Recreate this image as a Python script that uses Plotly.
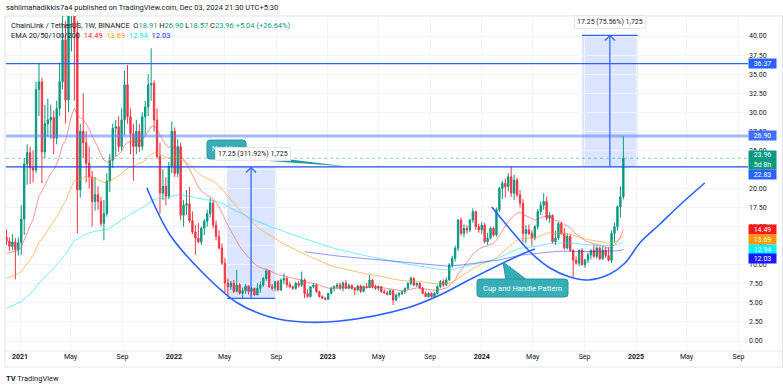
import numpy as np
import pandas as pd
import plotly.graph_objects as go

# ---------------- data (weekly LINK/USDT) ----------------
first_week = "2020-11-30"
opens = [13.6,13.1,12.4,13.0,12.0,12.9,16.0,23.2,24.7,22.7,
 22.4,33.0,34.0,24.8,28.5,29.0,29.3,26.6,30.5,34.0,
 39.5,31.6,43.0,45.0,40.5,19.8,27.5,26.0,23.3,21.5,
 18.3,19.2,18.3,15.4,16.7,21.0,23.7,27.9,28.1,25.5,
 29.0,33.6,29.4,27.2,25.5,27.5,25.5,29.4,30.7,33.6,
 33.8,29.0,24.2,19.4,20.3,19.0,22.9,27.5,22.0,25.5,
 16.5,17.8,18.0,15.8,14.3,13.5,13.0,14.8,15.7,16.7,
 18.1,15.2,13.7,12.2,10.2,7.6,7.1,7.6,6.5,7.35,
 6.25,6.6,7.2,6.5,6.9,6.05,6.9,7.35,8.2,9.2,
 7.13,6.91,7.78,6.69,8.0,8.2,7.4,7.1,6.91,7.57,
 7.3,8.0,6.2,5.82,7.13,7.35,6.47,5.82,5.6,5.47,
 6.25,6.91,7.13,7.35,6.91,7.6,6.91,7.3,6.9,6.69,
 7.2,6.5,7.13,7.0,8.0,7.13,6.91,7.13,6.47,6.3,
 6.1,6.6,5.38,6.03,6.25,6.47,6.91,7.56,8.22,7.35,
 7.56,6.91,6.25,5.81,6.25,5.81,6.25,7.13,7.78,7.35,
 8.0,9.97,10.84,12.15,15.87,14.12,14.78,14.56,15.87,16.96,
 15.0,14.56,15.2,13.03,13.5,14.78,13.9,17.2,20.02,20.68,
 20.24,21.55,19.4,21.1,19.15,18.06,14.1,14.6,14.1,13.5,
 15.0,17.0,17.8,18.3,16.1,16.5,13.0,13.5,15.4,14.1,
 12.2,13.7,11.9,10.6,10.2,11.9,10.0,10.6,11.3,11.9,
 11.1,12.2,10.8,11.9,11.2,10.6,14.1,15.0,17.6,18.91]
highs = [14.6,13.6,14.0,13.5,13.6,17.8,24.0,25.8,25.5,25.0,
 34.0,36.5,34.5,31.0,31.8,31.0,30.2,31.5,36.5,44.3,
 42.0,43.5,49.0,52.9,42.0,28.5,32.5,27.5,25.5,22.3,
 21.5,20.3,18.9,18.5,22.0,24.5,28.5,29.0,29.5,30.5,
 35.5,36.2,30.5,28.5,29.0,28.5,30.0,31.5,35.0,38.4,
 34.2,30.5,26.0,22.5,21.5,23.5,28.8,28.0,26.5,26.0,
 18.5,19.8,20.2,17.0,15.2,15.5,15.0,16.0,17.2,18.8,
 18.5,15.8,14.5,12.8,10.9,8.2,7.9,8.0,9.3,7.6,
 7.0,7.5,7.3,7.1,7.0,7.6,7.8,8.4,9.4,9.3,
 7.5,7.9,8.0,8.2,8.9,8.4,7.8,7.3,7.8,7.9,
 9.1,8.2,6.8,7.2,7.6,7.5,6.6,6.0,5.8,6.3,
 7.1,7.3,7.6,7.7,7.8,8.0,7.5,7.4,7.0,7.4,
 7.4,7.3,7.6,8.66,8.1,7.4,7.3,7.2,6.8,6.6,
 6.8,6.7,6.2,6.4,6.6,7.0,7.7,8.44,8.3,7.7,
 7.7,7.1,6.5,6.4,6.4,6.4,7.3,8.0,8.1,8.3,
 10.2,11.2,12.5,16.0,16.2,15.3,15.2,16.0,17.4,17.1,
 15.4,15.6,15.5,14.2,15.0,15.0,17.5,20.2,21.0,21.3,
 22.0,22.86,21.8,21.4,19.8,18.6,15.2,15.3,14.5,15.2,
 17.3,18.3,19.4,18.9,16.9,16.6,14.5,15.6,15.6,14.8,
 14.1,14.0,12.0,11.1,12.0,12.2,10.8,11.6,12.0,12.6,
 12.5,12.4,12.4,12.3,12.3,14.5,15.5,17.8,20.3,26.9]
lows = [12.6,11.8,11.9,8.1,11.2,11.3,13.9,20.5,20.6,20.8,
 22.0,29.5,20.7,24.0,26.8,26.5,24.5,25.8,29.5,33.0,
 28.5,30.0,38.0,31.5,14.1,18.8,24.0,20.8,20.0,15.0,
 17.1,17.2,15.0,13.2,16.3,19.5,22.7,24.2,24.8,25.0,
 27.0,28.5,24.5,21.0,24.5,24.8,25.0,27.0,29.5,31.5,
 27.5,24.0,16.7,18.5,17.8,18.6,22.0,21.5,21.5,15.8,
 15.0,16.5,15.5,14.0,11.3,12.8,12.6,13.9,15.0,16.2,
 14.8,13.2,12.0,10.0,6.3,6.0,6.7,6.3,6.4,6.1,
 5.6,6.2,6.1,6.0,5.9,6.0,6.3,7.1,7.9,6.95,
 6.6,6.5,6.5,6.6,7.5,7.0,6.9,6.7,6.7,7.0,
 7.1,5.6,5.7,5.7,6.9,6.3,5.7,5.5,5.35,5.4,
 6.1,6.5,6.8,6.7,6.5,6.8,6.8,6.7,6.03,6.5,
 6.3,6.4,6.9,6.95,6.9,6.7,6.6,6.3,6.2,6.0,
 6.0,4.72,5.2,5.7,6.0,6.2,6.7,7.3,7.2,7.1,
 6.8,6.1,5.75,5.7,5.7,5.7,6.1,6.9,7.1,7.2,
 7.9,9.6,10.4,11.8,13.8,13.6,14.1,14.3,15.5,14.6,
 14.2,14.0,12.8,12.6,13.3,13.7,13.7,16.9,18.6,18.8,
 19.6,18.9,18.5,18.9,17.5,12.9,12.8,13.9,12.5,13.2,
 14.6,16.5,17.2,15.8,15.5,12.8,12.6,13.2,13.9,11.9,
 12.0,11.7,8.4,10.0,9.8,9.9,9.6,10.2,10.7,10.9,
 10.8,10.6,10.6,10.9,10.4,10.2,12.9,14.5,16.2,18.57]
closes = [13.1,12.4,13.0,12.0,12.9,16.0,23.2,24.7,22.7,22.4,
 33.0,34.0,24.8,28.5,29.0,29.3,26.6,30.5,34.0,39.5,
 31.6,43.0,45.0,40.5,19.8,27.5,26.0,23.3,21.5,18.3,
 19.2,18.3,15.4,16.7,21.0,23.7,27.9,28.1,25.5,29.0,
 33.6,29.4,27.2,25.5,27.5,25.5,29.4,30.7,33.6,33.8,
 29.0,24.2,19.4,20.3,19.0,22.9,27.5,22.0,25.5,16.5,
 17.8,18.0,15.8,14.3,13.5,13.0,14.8,15.7,16.7,18.1,
 15.2,13.7,12.2,10.2,7.6,7.1,7.6,6.5,7.35,6.25,
 6.6,7.2,6.5,6.9,6.05,6.9,7.35,8.2,9.2,7.13,
 6.91,7.78,6.69,8.0,8.2,7.4,7.1,6.91,7.57,7.3,
 8.0,6.2,5.82,7.13,7.35,6.47,5.82,5.6,5.47,6.25,
 6.91,7.13,7.35,6.91,7.6,6.91,7.3,6.9,6.69,7.2,
 6.5,7.13,7.0,8.0,7.13,6.91,7.13,6.47,6.3,6.1,
 6.6,5.38,6.03,6.25,6.47,6.91,7.56,8.22,7.35,7.56,
 6.91,6.25,5.81,6.25,5.81,6.25,7.13,7.78,7.35,8.0,
 9.97,10.84,12.15,15.87,14.12,14.78,14.56,15.87,16.96,15.0,
 14.56,15.2,13.03,13.5,14.78,13.9,17.2,20.02,20.68,20.24,
 21.55,19.4,21.1,19.15,18.06,14.1,14.6,14.1,13.5,15.0,
 17.0,17.8,18.3,16.1,16.5,13.0,13.5,15.4,14.1,12.2,
 13.7,11.9,10.6,10.2,11.9,10.0,10.6,11.3,11.9,11.1,
 12.2,10.8,11.9,11.2,10.6,14.1,15.0,17.6,18.91,23.96]

# EMA settings (starting values)
ema_lengths = [20, 50, 100, 200]
ema_seed_values = [11.5, 8.2, 4.3, 11.7]
ema_seed_index = [0, 0, 0, 101]
ema_line_colors = ["rgba(255,60,60,0.55)", "rgba(255,150,20,0.6)",
                   "rgba(0,225,235,0.55)", "rgba(40,40,255,0.5)"]
ema_tag_colors = ["#ff1a1a", "#ff9800", "#00f0ff", "#1a1aff"]
ema_tag_text = ["14.49", "13.69", "12.94", "12.03"]

hline_levels = [36.37, 26.90, 22.83]
last_price = 23.96

# drawings (date, price)
cup_dates = ["2021-10-29", "2021-12-23", "2022-03-11", "2022-05-31", "2022-08-17",
             "2022-11-03", "2023-01-30", "2023-07-08", "2023-09-24", "2023-12-11",
             "2024-04-01", "2024-05-06"]
cup_prices = [20.07, 13.9, 8.92, 5.02, 3.15, 2.49, 2.62, 4.33, 6.03, 8.26, 11.28, 12.07]
handle_dates = ["2024-01-25", "2024-03-08", "2024-04-25", "2024-06-11", "2024-07-28",
                "2024-09-09", "2024-10-31", "2024-12-06", "2025-01-10", "2025-02-27",
                "2025-04-15", "2025-06-13"]
handle_prices = [17.57, 14.69, 11.67, 9.57, 8.39, 8.0, 8.79, 10.23, 12.85, 15.34, 17.84, 20.72]

range1_dates = ["2022-05-07", "2022-07-03", "2022-08-29"]
range1_prices = [5.58, 22.83]
range2_dates = ["2024-08-26", "2024-10-31", "2025-01-05"]
range2_prices = [22.83, 40.08]
range1_text = "17.25 (311.92%) 1,725"
range2_text = "17.25 (75.56%) 1,725"

x_tick_dates = ["2021-01-01", "2021-05-01", "2021-09-01", "2022-01-01", "2022-05-01",
                "2022-09-01", "2023-01-01", "2023-05-01", "2023-09-01", "2024-01-01",
                "2024-05-01", "2024-09-01", "2025-01-01", "2025-05-01", "2025-09-01"]
x_tick_text = ["<b>2021</b>", "May", "Sep", "<b>2022</b>", "May", "Sep", "<b>2023</b>", "May",
               "Sep", "<b>2024</b>", "May", "Sep", "<b>2025</b>", "May", "Sep"]
y_tick_values = [i * 2.5 for i in range(17)]

# ---------------- geometry helpers ----------------
W, H = 783, 388
ML, MR, MT, MB = 6, 35, 16, 37
PW, PH = W - ML - MR, H - MT - MB
PX_PER_DAY = 616 / 1461.0
Y_PER_UNIT = 7.625
ORIGIN = pd.Timestamp("2021-01-01")


def px2date(px):
    return ORIGIN + pd.Timedelta(days=(px - 20) / PX_PER_DAY)


x_range = [px2date(ML), px2date(W - MR)]
y_range = [(341 - (H - MB)) / Y_PER_UNIT, (341 - MT) / Y_PER_UNIT]


def fx(px):
    return (px - ML) / PW


def fy(py):
    return (H - MB - py) / PH


def rrect(x0, y0, x1, y1, r):
    rx, ry = r / PW, r / PH
    a0, a1, b0, b1 = fx(x0), fx(x1), fy(y1), fy(y0)
    return (f"M{a0+rx},{b0} L{a1-rx},{b0} Q{a1},{b0} {a1},{b0+ry} L{a1},{b1-ry} "
            f"Q{a1},{b1} {a1-rx},{b1} L{a0+rx},{b1} Q{a0},{b1} {a0},{b1-ry} "
            f"L{a0},{b0+ry} Q{a0},{b0} {a0+rx},{b0} Z")


def poly(points):
    return "M" + " L".join(f"{fx(p[0])},{fy(p[1])}" for p in points) + " Z"


GREEN, RED = "#089981", "#f23645"
BLUE = "#2962ff"
TEAL, TEAL_D = "#37adb6", "#2398a1"
FONT = "Roboto, Liberation Sans, sans-serif"
TXT = "#131722"

dates = pd.date_range(first_week, periods=len(closes), freq="7D")


def ema(values, n, seed, start):
    a = 2.0 / (n + 1)
    out = [None] * len(values)
    e = seed
    out[start] = e
    for i in range(start + 1, len(values)):
        e = a * values[i] + (1 - a) * e
        out[i] = e
    return out


fig = go.Figure()

shapes = []
shapes.append(dict(type="rect", xref="x", yref="y", x0=range1_dates[0], x1=range1_dates[2],
                   y0=range1_prices[0], y1=range1_prices[1], fillcolor="rgba(41,98,255,0.17)",
                   line=dict(width=0), layer="below"))
shapes.append(dict(type="rect", xref="x", yref="y", x0=range2_dates[0], x1=range2_dates[2],
                   y0=range2_prices[0], y1=range2_prices[1], fillcolor="rgba(41,98,255,0.17)",
                   line=dict(width=0), layer="below"))

fig.add_trace(go.Candlestick(
    x=dates, open=opens, high=highs, low=lows, close=closes,
    increasing=dict(line=dict(color=GREEN, width=1), fillcolor=GREEN),
    decreasing=dict(line=dict(color=RED, width=1), fillcolor=RED),
    whiskerwidth=0, hoverinfo="skip", showlegend=False))

for n, seed, start, col in zip(ema_lengths, ema_seed_values, ema_seed_index, ema_line_colors):
    fig.add_trace(go.Scatter(x=dates, y=ema(closes, n, seed, start), mode="lines",
                             line=dict(color=col, width=1), hoverinfo="skip",
                             showlegend=False, connectgaps=False))

fig.add_trace(go.Scatter(x=cup_dates, y=cup_prices, mode="lines",
                         line=dict(color=BLUE, width=1.6, shape="spline", smoothing=1.0),
                         hoverinfo="skip", showlegend=False))
fig.add_trace(go.Scatter(x=handle_dates, y=handle_prices, mode="lines",
                         line=dict(color=BLUE, width=1.6, shape="spline", smoothing=1.0),
                         hoverinfo="skip", showlegend=False))

shapes.append(dict(type="line", xref="paper", yref="y", x0=0, x1=1, y0=hline_levels[0],
                   y1=hline_levels[0], line=dict(color=BLUE, width=1.2)))
shapes.append(dict(type="line", xref="paper", yref="y", x0=0, x1=1, y0=hline_levels[1],
                   y1=hline_levels[1], line=dict(color="rgba(90,125,250,0.55)", width=3)))
shapes.append(dict(type="line", xref="paper", yref="y", x0=0, x1=1, y0=hline_levels[2],
                   y1=hline_levels[2], line=dict(color="#1e4fe0", width=1.2)))
shapes.append(dict(type="line", xref="paper", yref="y", x0=0, x1=1, y0=last_price,
                   y1=last_price, line=dict(color="rgba(8,153,129,0.45)", width=1, dash="dot")))

for d, p in ((range1_dates, range1_prices), (range2_dates, range2_prices)):
    shapes.append(dict(type="line", xref="x", yref="y", x0=d[1], x1=d[1], y0=p[0], y1=p[1],
                       line=dict(color=BLUE, width=1.2)))
    edge = p[0] if p is range1_prices else p[1]
    shapes.append(dict(type="line", xref="x", yref="y", x0=d[0], x1=d[2], y0=edge, y1=edge,
                       line=dict(color=BLUE, width=1.2)))
for ax_, ay_ in ((251, 167.5), (610, 35.5)):
    shapes.append(dict(type="path", xref="paper", yref="paper",
                       path=f"M{fx(ax_-5)},{fy(ay_+5)} L{fx(ax_)},{fy(ay_)} L{fx(ax_+5)},{fy(ay_+5)}",
                       line=dict(color=BLUE, width=1.2)))

shapes.append(dict(type="path", xref="paper", yref="paper", path=poly([(238, 153), (347, 166.5), (238, 159)]),
                   fillcolor=TEAL_D, line=dict(width=0)))
shapes.append(dict(type="path", xref="paper", yref="paper", path=rrect(207, 140, 246, 159, 3),
                   fillcolor=TEAL, line=dict(color=TEAL_D, width=1)))
shapes.append(dict(type="path", xref="paper", yref="paper", path=poly([(503, 262), (527, 280), (506, 280)]),
                   fillcolor=TEAL, line=dict(color=TEAL_D, width=1)))
shapes.append(dict(type="path", xref="paper", yref="paper", path=rrect(477, 279, 568, 297, 3),
                   fillcolor=TEAL, line=dict(color=TEAL_D, width=1)))

shapes.append(dict(type="rect", xref="paper", yref="paper", x0=fx(5), x1=fx(782.5), y0=fy(367), y1=fy(16),
                   line=dict(color="#e0e3eb", width=1), layer="below"))
shapes.append(dict(type="line", xref="paper", yref="paper", x0=fx(5), x1=fx(782.5), y0=0, y1=0,
                   line=dict(color="#e0e3eb", width=1), layer="below"))

ann = []
ann.append(dict(xref="paper", yref="paper", x=fx(4), y=fy(7.5), xanchor="left", yanchor="middle",
                text="sahilmahadikkis7a4 published on TradingView.com, Dec 03, 2024 21:30 UTC+5:30",
                showarrow=False, font=dict(size=7.5, color=TXT)))
g = f"color:{GREEN}"
ann.append(dict(xref="paper", yref="paper", x=fx(9), y=fy(25), xanchor="left", yanchor="middle",
                text=(f"ChainLink / TetherUS, 1W, BINANCE  O<span style='{g}'>18.91</span> "
                      f"H<span style='{g}'>26.90</span> L<span style='{g}'>18.57</span> "
                      f"C<span style='{g}'>23.96</span> <span style='{g}'>+5.04 (+26.64%)</span>"),
                showarrow=False, font=dict(size=7.5, color=TXT)))
ann.append(dict(xref="paper", yref="paper", x=fx(9), y=fy(35.5), xanchor="left", yanchor="middle",
                text=("EMA 20/50/100/200  " + "  ".join(
                    f"<span style='color:{c}'>{t}</span>" for c, t in zip(ema_tag_colors, ema_tag_text))),
                showarrow=False, font=dict(size=7.5, color=TXT)))

ann.append(dict(xref="paper", yref="paper", x=fx(226.5), y=fy(148.5), text="Neckline", showarrow=False,
                font=dict(size=7.5, color="white"), xanchor="center", yanchor="middle"))
ann.append(dict(xref="paper", yref="paper", x=fx(522.5), y=fy(288), text="Cup and Handle Pattern",
                showarrow=False, font=dict(size=7.5, color="white"), xanchor="center", yanchor="middle"))

ann.append(dict(xref="paper", yref="paper", x=fx(253), y=fy(154), text=range1_text, showarrow=False,
                font=dict(size=7, color=TXT), bgcolor="white", bordercolor="#e3e5ec", borderwidth=1,
                borderpad=2, xanchor="center", yanchor="middle"))
ann.append(dict(xref="paper", yref="paper", x=fx(610), y=fy(22), text=range2_text, showarrow=False,
                font=dict(size=7, color=TXT), bgcolor="white", bordercolor="#e3e5ec", borderwidth=1,
                borderpad=2, xanchor="center", yanchor="middle"))


def tag(text, ypx, color, h=9):
    return dict(xref="paper", yref="paper", x=fx(747.5), y=fy(ypx), xanchor="left", yanchor="middle",
                text=text, showarrow=False, bgcolor=color, font=dict(size=7, color="white"),
                width=27, height=h, borderpad=0, align="center")


ann.append(tag("36.37", 341 - 36.37 * Y_PER_UNIT, BLUE))
ann.append(tag("26.90", 341 - 26.90 * Y_PER_UNIT, "#3f6ffb"))
ann.append(tag("23.96<br>5d 8h", 160.5, GREEN, h=18))
ann.append(tag("22.83", 174.5, BLUE))
for t, c, ypx in zip(ema_tag_text, ema_tag_colors, [230, 239.5, 249, 258.5]):
    ann.append(tag(t, ypx, c))

ann.append(dict(xref="paper", yref="paper", x=fx(4), y=fy(378.5), xanchor="left", yanchor="middle",
                text="<b>TV</b> TradingView", showarrow=False, font=dict(size=7.5, color=TXT)))

fig.update_layout(
    width=W, height=H, margin=dict(l=ML, r=MR, t=MT, b=MB),
    paper_bgcolor="white", plot_bgcolor="white", showlegend=False,
    font=dict(family=FONT, size=7, color=TXT),
    shapes=shapes, annotations=ann, boxgap=0.35,
    xaxis=dict(type="date", range=x_range, tickvals=x_tick_dates, ticktext=x_tick_text,
               showgrid=True, gridcolor="#f0f3fa", gridwidth=1, zeroline=False, showline=False,
               ticks="", tickfont=dict(size=7, color=TXT), rangeslider=dict(visible=False),
               fixedrange=True),
    yaxis=dict(side="right", range=y_range, tickvals=y_tick_values,
               ticktext=[f"{v:.2f}" for v in y_tick_values], showgrid=True, gridcolor="#f0f3fa",
               zeroline=False, showline=False, ticks="", tickfont=dict(size=7, color=TXT),
               fixedrange=True),
)

fig.write_html("out.html", config={"displayModeBar": False, "staticPlot": True},
               post_script="document.body.style.margin='0';document.body.style.overflow='hidden';")
